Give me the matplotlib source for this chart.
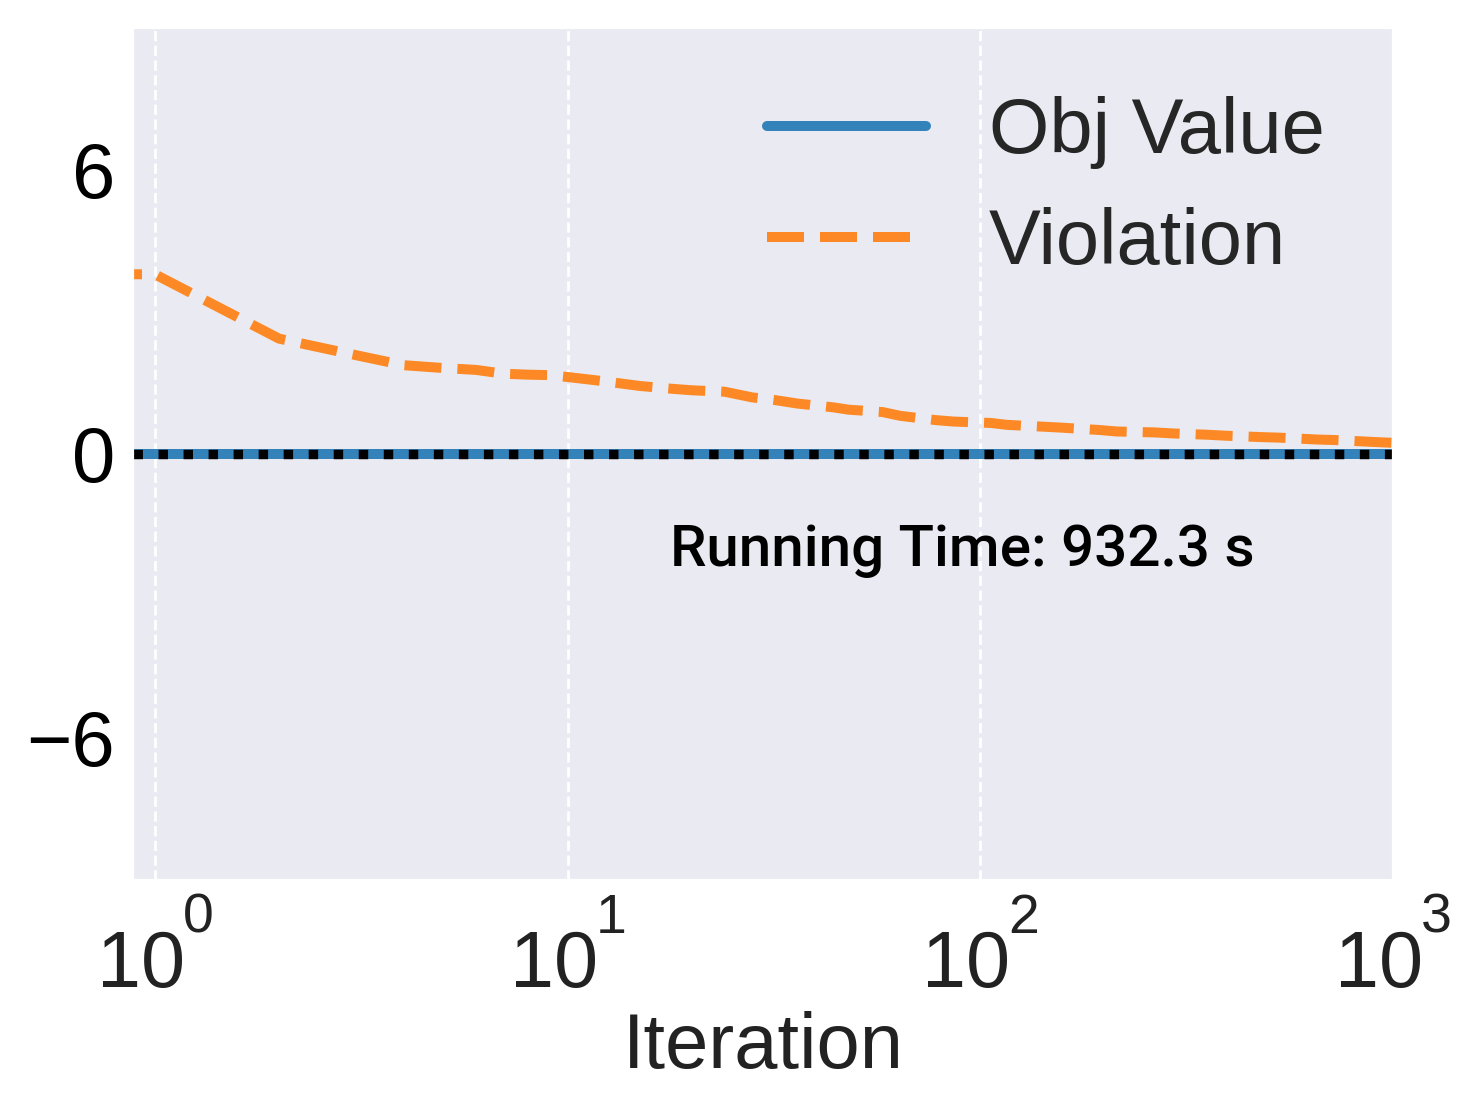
import matplotlib
matplotlib.use('Agg')
from matplotlib import pyplot as plt
from matplotlib.ticker import NullFormatter
import numpy as np
import seaborn as sns

# iteration index (0 is clipped to the left edge on the log axis)
iterations = [0, 1, 2, 3, 4, 5, 6, 7, 8, 9,
              10, 12, 15, 18, 20, 24, 28, 32, 36, 44,
              48, 58, 64, 78, 86, 106, 116, 143, 158, 195,
              214, 265, 290, 357, 394, 484, 530, 655, 720, 890,
              1000]
violation = [3.86, 3.79, 2.43, 2.10, 1.87, 1.81, 1.77, 1.69, 1.67, 1.66,
             1.62, 1.54, 1.43, 1.37, 1.34, 1.31, 1.19, 1.13, 1.06, 0.98,
             0.93, 0.88, 0.80, 0.71, 0.68, 0.65, 0.61, 0.57, 0.55, 0.50,
             0.47, 0.45, 0.43, 0.40, 0.38, 0.35, 0.34, 0.30, 0.29, 0.25,
             0.23]
obj_iterations = [0, 1000]
obj_value = [0.0, 0.0]
x_ticks = [1, 10, 100, 1000]
y_ticks = [-6, 0, 6]
running_time = 932.3

sns.set_style('darkgrid')
plt.rcParams['font.family'] = ['Liberation Sans', 'DejaVu Sans']

fig = plt.figure(figsize=(7.405, 5.555), dpi=200)
ax = fig.add_axes([0.0898, 0.208, 0.8508, 0.7672])

ax.plot(obj_iterations, obj_value, color='tab:blue', alpha=0.9, lw=3.6,
        solid_capstyle='round', label='Obj Value')
ax.plot(iterations, violation, color='tab:orange', alpha=0.9, lw=3.6,
        linestyle='--', label='Violation')
ax.axhline(0, color='black', lw=3.4, linestyle=':')

ax.set_xscale('log')
ax.set_xlim(0.885, 1000)
ax.set_ylim(-9, 9)
ax.set_xticks(x_ticks)
ax.set_yticks(y_ticks)
ax.xaxis.set_major_formatter(NullFormatter())
ax.xaxis.set_minor_formatter(NullFormatter())

# x tick labels as 10 with a raised exponent
for v in x_ticks:
    ax.annotate('10', xy=(v, 0), xycoords=('data', 'axes fraction'),
                xytext=(10.9, -38.5), textcoords='offset points',
                ha='right', va='baseline', fontsize=28.5, color='#222222',
                annotation_clip=False)
    ax.annotate('%d' % int(round(np.log10(v))), xy=(v, 0),
                xycoords=('data', 'axes fraction'),
                xytext=(10, -19.1), textcoords='offset points',
                ha='left', va='baseline', fontsize=20, color='#222222',
                annotation_clip=False)

ax.grid(False)
ax.grid(True, axis='x', which='major', color='white', linestyle='--', lw=1.0)
ax.tick_params(axis='both', length=0, labelsize=28)
ax.tick_params(axis='y', labelcolor='black', pad=6.5)
ax.set_xlabel('Iteration', fontsize=28, color='#222222')
ax.xaxis.set_label_coords(0.5, -0.2207)
ax.xaxis.label.set_verticalalignment('baseline')

ax.legend(loc='upper right', fontsize=28, frameon=False, handlelength=2.05,
          handletextpad=0.8, labelspacing=0.49, borderaxespad=0.48)

ax.text(0.658, 0.386, 'Running Time: %.1f s' % running_time,
        transform=ax.transAxes, ha='center', va='center', fontsize=21,
        family=['Roboto', 'DejaVu Sans'], fontweight='medium', color='black')

fig.savefig('out.png', dpi=200)
